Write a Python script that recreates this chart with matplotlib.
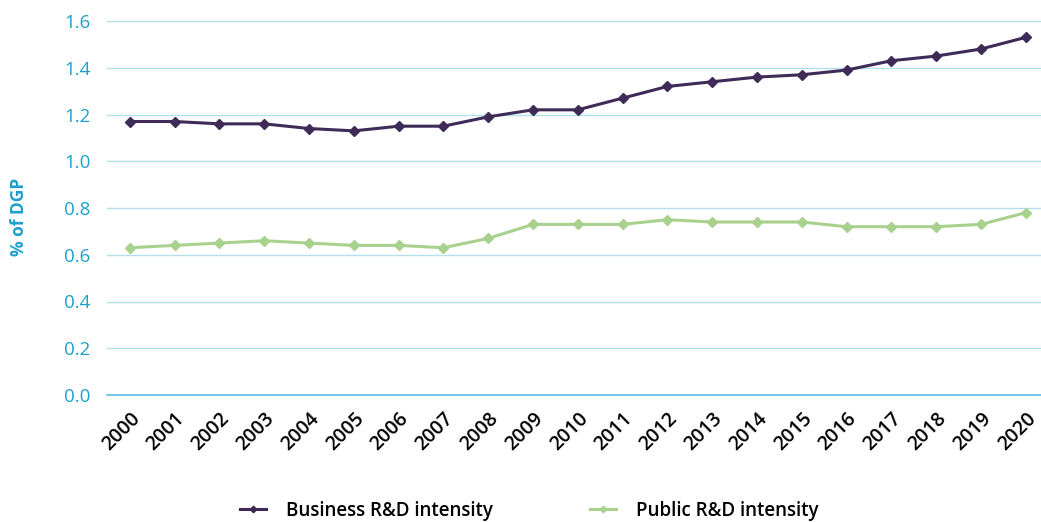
import matplotlib.pyplot as plt

# data (% of GDP)
years = [str(y) for y in range(2000, 2021)]
business = [1.17, 1.17, 1.16, 1.16, 1.14, 1.13, 1.15, 1.15, 1.19, 1.22, 1.22,
            1.27, 1.32, 1.34, 1.36, 1.37, 1.39, 1.43, 1.45, 1.48, 1.53]
public = [0.63, 0.64, 0.65, 0.66, 0.65, 0.64, 0.64, 0.63, 0.67, 0.73, 0.73,
          0.73, 0.75, 0.74, 0.74, 0.74, 0.72, 0.72, 0.72, 0.73, 0.78]

cyan = '#1ea0cc'
purple = '#3f2b57'
green = '#a9d18e'

plt.rcParams['font.family'] = ['Open Sans', 'DejaVu Sans']

fig = plt.figure(figsize=(10.41, 5.22), dpi=100)
ax = fig.add_axes([107 / 1041, 1 - 395 / 522, 1 - 107 / 1041, (395 - 21) / 522])

pos = list(range(len(years)))
ax.plot(pos, business, color=purple, lw=2.2, marker='D', ms=5.5, label='Business R&D intensity')
ax.plot(pos, public, color=green, lw=2.2, marker='D', ms=5.5, label='Public R&D intensity')

ax.set_xlim(-0.51, 20.34)
ax.set_ylim(0, 1.6)
ax.set_yticks([0, 0.2, 0.4, 0.6, 0.8, 1.0, 1.2, 1.4, 1.6])
ax.set_yticklabels(['%.1f' % v for v in ax.get_yticks()])
ax.set_xticks(pos)
ax.set_xticklabels(years, rotation=45, ha='right', rotation_mode='anchor',
                   fontsize=14, fontweight='semibold')

ax.grid(axis='y', color='#b3e0ee', lw=1)
ax.set_axisbelow(True)
for s in ['top', 'right', 'left']:
    ax.spines[s].set_visible(False)
ax.spines['bottom'].set_color('#5bbedf')
ax.spines['bottom'].set_linewidth(1.2)
ax.tick_params(axis='y', length=0, labelsize=13.5, labelcolor=cyan, pad=12)
ax.tick_params(axis='x', length=0, pad=10)

ax.set_ylabel('% of DGP', color=cyan, fontsize=12.5, fontweight='bold')
ax.yaxis.set_label_coords(-0.085, 0.475)

ax.legend(loc='center', bbox_to_anchor=(0.452, -0.310), ncol=2,
          frameon=False, prop={'size': 13.5, 'weight': 'semibold'},
          markerscale=0.6, columnspacing=5.2, handlelength=1.4,
          handletextpad=1.05)

fig.savefig('out.png', dpi=100)
